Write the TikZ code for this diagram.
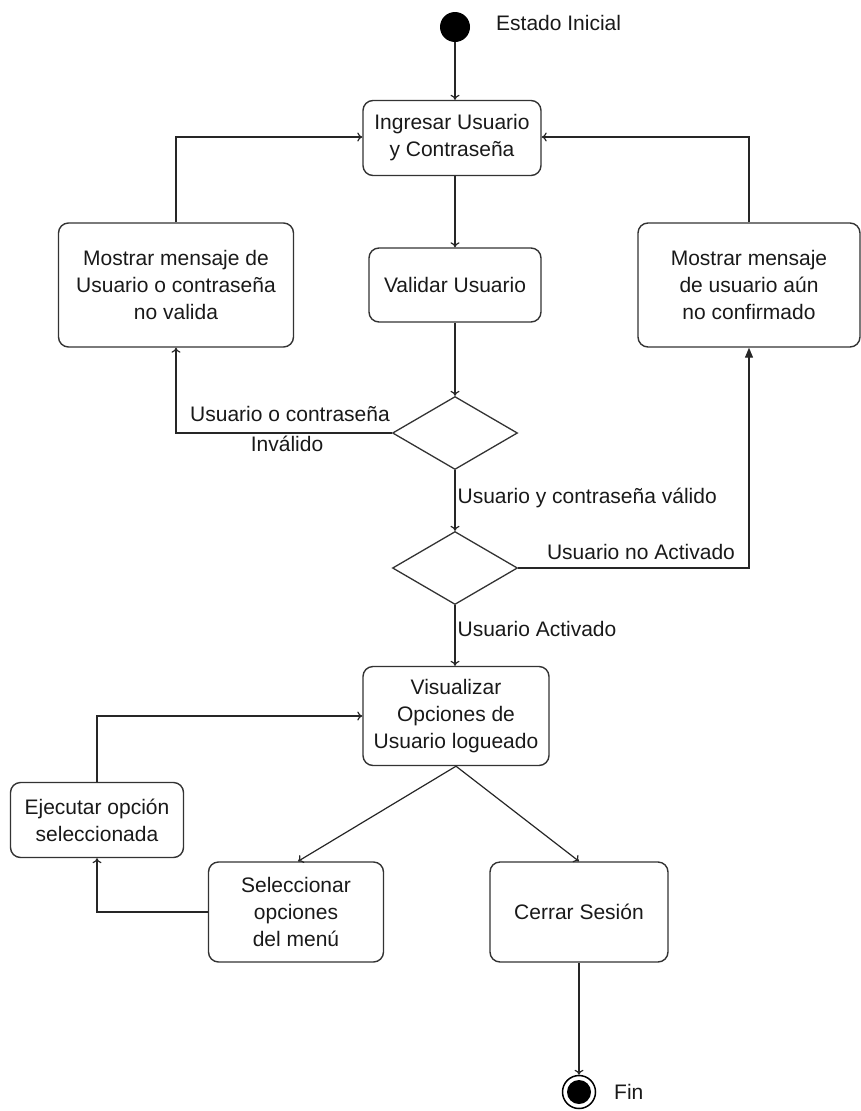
\documentclass[tikz,border=0pt]{standalone}
\usepackage{fontspec}
\setmainfont{Liberation Sans}
\usetikzlibrary{shapes.geometric,arrows.meta}
\begin{document}
\begin{tikzpicture}[x=1pt,y=-1pt,
  every node/.style={font=\fontsize{21}{27}\selectfont, text=black!90},
  state/.style={draw=black!80, line width=1.4pt, rounded corners=10pt, align=center, inner sep=0pt},
  dec/.style={draw=black!80, line width=1.3pt, diamond, minimum width=125pt, minimum height=73pt, inner sep=0pt},
  arr/.style={draw=black!85, line width=1.2pt, -{To[length=5pt,width=9pt]}},
  tri/.style={draw=black!85, line width=1.2pt, -{Triangle[length=10pt,width=8pt]}},
  lbl/.style={inner sep=0pt}]
\useasboundingbox (0,0) rectangle (861,1111);
% nodes
\node[circle, fill=black, minimum size=30pt, inner sep=0pt] (init) at (455,27) {};
\node[lbl, anchor=west] (tinit) at (496,23) {Estado Inicial};
\node[state, minimum width=178pt, minimum height=75pt] (ing) at (452,138) {Ingresar Usuario\\y Contraseña};
\node[state, minimum width=172pt, minimum height=74pt] (val) at (455,285) {Validar Usuario};
\node[state, minimum width=235pt, minimum height=124pt] (left) at (176,285) {Mostrar mensaje de\\Usuario o contraseña\\no valida};
\node[state, minimum width=222pt, minimum height=124pt] (right) at (749,285) {Mostrar mensaje\\de usuario aún\\no confirmado};
\node[dec] (d1) at (455,433) {};
\node[dec] (d2) at (455,568) {};
\node[state, minimum width=186pt, minimum height=99pt] (vis) at (456,716) {Visualizar\\Opciones de\\Usuario logueado};
\node[state, minimum width=173pt, minimum height=75pt] (eje) at (97,820) {Ejecutar opción\\seleccionada};
\node[state, minimum width=175pt, minimum height=100pt] (sel) at (296,912) {Seleccionar\\opciones\\del menú};
\node[state, minimum width=178pt, minimum height=100pt] (cer) at (579,912) {Cerrar Sesión};
\node[circle, draw=black, line width=1.5pt, minimum size=33pt, inner sep=0pt] (fin) at (579,1092) {};
\node[circle, fill=black, minimum size=24pt, inner sep=0pt] (finin) at (fin) {};
\node[lbl, anchor=west] (tfin) at (614,1092) {Fin};
% connectors
\draw[arr] (init) -- (init |- ing.north);
\draw[arr] (ing.south -| val.north) -- (val.north);
\draw[arr] (val) -- (d1);
\draw[arr] (d1) -- (d2) node[pos=0.45, right, lbl, xshift=2pt] (l3) {Usuario y contraseña válido};
\draw[arr] (d2) -- (d2 |- vis.north) node[pos=0.5, right, lbl, xshift=2pt, yshift=6pt] (l5) {Usuario Activado};
\draw[arr] (left.north) |- ([yshift=1pt]ing.west);
\draw[arr] (right.north) |- ([yshift=1pt]ing.east);
\draw[arr] (d1.west) -| (left.south);
\node[lbl, anchor=base east] (l1) at (390,421) {Usuario o contraseña};
\node[lbl] (l2) at (287,444) {Inválido};
\draw[tri] (d2.east) -| (right.south);
\node[lbl] (l4) at (641,552) {Usuario no Activado};
\draw[arr] (eje.north) |- (vis.west);
\draw[arr] (sel.west) -| (eje.south);
\draw[arr] (vis.south) -- ([xshift=2pt]sel.north);
\draw[arr] (vis.south) -- (cer.north);
\draw[arr] (cer.south) -- (fin.north);
\end{tikzpicture}
\end{document}
